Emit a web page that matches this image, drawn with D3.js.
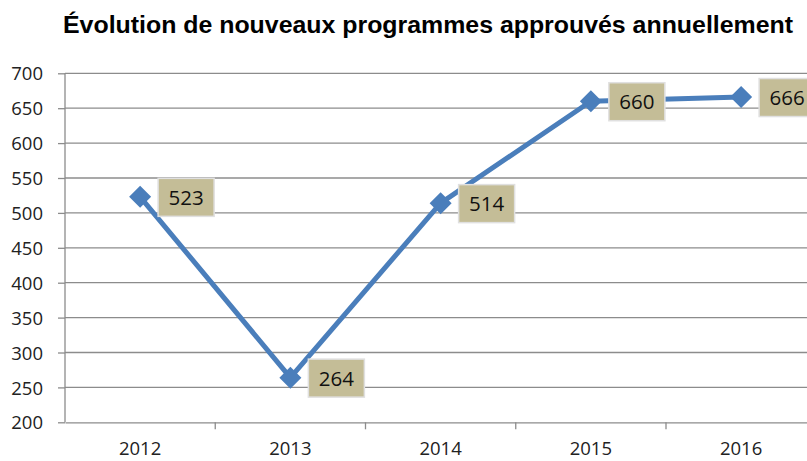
<!DOCTYPE html>
<html>
<head>
<meta charset="utf-8">
<script src="https://cdn.jsdelivr.net/npm/d3@7"></script>
<style>
html,body{margin:0;padding:0;background:#fff;overflow:hidden;}
svg{display:block;}
</style>
</head>
<body>
<svg id="chart" width="807" height="461"></svg>
<script>
const title = "Évolution de nouveaux programmes approuvés annuellement";
const categories = ["2012", "2013", "2014", "2015", "2016"];
const values = [523, 264, 514, 660, 666];
const yTicks = [200, 250, 300, 350, 400, 450, 500, 550, 600, 650, 700];

(function () {
const svg = d3.select("#chart");
const pL = 65, pR = 816.25, pT = 73.3, pB = 422.3;
const x = d3.scaleBand().domain(categories).range([pL, pR]);
const y = d3.scaleLinear().domain([200, 700]).range([pB, pT]);

const gridColor = "#8c8c8c";
const numFont = "'Open Sans', sans-serif";

svg.append("text")
  .attr("x", 63).attr("y", 33)
  .attr("text-anchor", "start")
  .attr("font-family", "'Liberation Sans', Arial, sans-serif")
  .attr("font-weight", "bold")
  .attr("font-size", 23)
  .attr("textLength", 730)
  .attr("lengthAdjust", "spacingAndGlyphs")
  .attr("fill", "#000")
  .text(title);

// gridlines
svg.append("g").selectAll("line").data(yTicks.filter(d => d > 200)).join("line")
  .attr("x1", pL).attr("x2", 807)
  .attr("y1", d => y(d)).attr("y2", d => y(d))
  .attr("stroke", gridColor).attr("stroke-width", 1.3);

// y axis
const yAxis = svg.append("g").attr("transform", `translate(${pL},0)`)
  .call(d3.axisLeft(y).tickValues(yTicks).tickSize(7).tickPadding(15).tickFormat(d3.format("d")));
yAxis.select(".domain").attr("stroke", gridColor).attr("stroke-width", 1.3).attr("d", `M0,${pT}V${pB}`);
yAxis.selectAll(".tick line").attr("stroke", gridColor).attr("stroke-width", 1.3);
yAxis.selectAll(".tick text").attr("font-family", numFont).attr("font-size", 18.5).attr("fill", "#222").attr("dy", "0.36em");

// x axis
const xAxis = svg.append("g").attr("transform", `translate(0,${pB})`)
  .call(d3.axisBottom(x).tickSize(0).tickPadding(20));
xAxis.select(".domain").attr("stroke", gridColor).attr("stroke-width", 1.3);
xAxis.selectAll(".tick text").attr("font-family", numFont).attr("font-size", 18.5).attr("fill", "#222");
// boundary ticks
svg.append("g").selectAll("line").data(categories.slice(1)).join("line")
  .attr("x1", d => x(d)).attr("x2", d => x(d))
  .attr("y1", pB).attr("y2", pB + 7)
  .attr("stroke", gridColor).attr("stroke-width", 1.3);

const cx = d => x(d) + x.bandwidth() / 2;
const data = categories.map((c, i) => ({c, v: values[i]}));

const blue = "#4a7ebb";
svg.append("path").datum(data)
  .attr("fill", "none").attr("stroke", blue).attr("stroke-width", 5).attr("stroke-linejoin", "round")
  .attr("d", d3.line().x(d => cx(d.c)).y(d => y(d.v)));

svg.append("g").selectAll("path").data(data).join("path")
  .attr("transform", d => `translate(${cx(d.c)},${y(d.v)})`)
  .attr("d", "M0,-11L11,0L0,11L-11,0Z")
  .attr("fill", blue);

// data labels
const lab = svg.append("g").selectAll("g").data(data).join("g")
  .attr("transform", d => `translate(${cx(d.c) + 18},${y(d.v) + 0.5})`);
lab.append("rect")
  .attr("x", 0).attr("y", -19).attr("width", 56).attr("height", 38)
  .attr("fill", "#c4bd97").attr("stroke", "#e0e0e0").attr("stroke-width", 1.5);
lab.append("text")
  .attr("x", 28).attr("y", 0).attr("dy", "0.36em")
  .attr("text-anchor", "middle")
  .attr("font-family", numFont).attr("font-size", 20.5).attr("fill", "#111")
  .text(d => d.v);
})();
</script>
</body>
</html>
